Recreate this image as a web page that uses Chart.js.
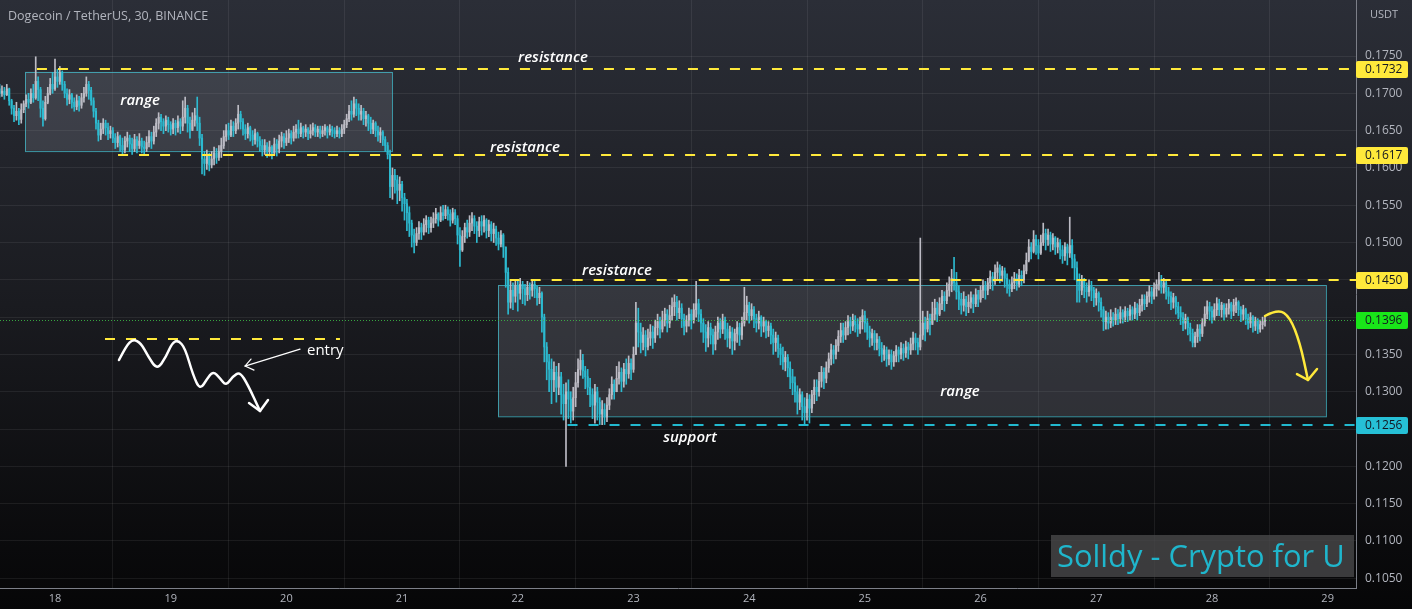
<!DOCTYPE html>
<html lang="en">
<head>
<meta charset="UTF-8" />
<title>Dogecoin / TetherUS, 30, BINANCE</title>
<script src="https://cdn.jsdelivr.net/npm/chart.js"></script>
<style>
  html, body { margin: 0; padding: 0; background: #131418; overflow: hidden; }
  #wrap { width: 1412px; height: 609px; }
</style>
</head>
<body>
<div id="wrap"><canvas id="chart" width="1412" height="609"></canvas></div>
<script>
// 30 minute candles, prices in 1/10000 USDT. first candle = Jan 17 12:30
const startDay = 17 + 12.5 / 24;
const candleStep = 1 / 48;
const firstOpen = 1706;

const closes = [
  1700,1703,1698,1706,1690,1680,1670,1676,1665,1678, 1686,1692,1688,1700,1694,1716,1705,1680,1666,1688,
  1700,1712,1706,1722,1716,1728,1712,1700,1692,1698, 1688,1682,1690,1684,1694,1700,1712,1704,1690,1676,
  1660,1644,1652,1660,1654,1646,1650,1640,1634,1642, 1630,1624,1636,1640,1632,1626,1638,1630,1636,1628,
  1626,1634,1642,1636,1648,1660,1668,1662,1656,1664, 1658,1652,1660,1654,1662,1656,1668,1680,1660,1650,
  1664,1670,1660,1640,1612,1606,1616,1604,1612,1620, 1614,1622,1630,1642,1650,1644,1656,1650,1660,1672,
  1662,1652,1646,1654,1644,1638,1646,1636,1630,1624, 1630,1622,1628,1620,1632,1626,1636,1642,1634,1640,
  1646,1640,1648,1652,1646,1654,1648,1652,1646,1650, 1654,1648,1652,1646,1650,1654,1648,1652,1650,1646,
  1650,1646,1652,1658,1666,1676,1672,1686,1680,1672, 1676,1666,1670,1660,1652,1660,1650,1644,1648,1638,
  1630,1618,1575,1590,1584,1570,1578,1560,1552,1540, 1526,1510,1500,1512,1520,1514,1524,1530,1520,1526,
  1532,1538,1530,1540,1536,1544,1538,1530,1540,1532, 1510,1490,1508,1520,1514,1526,1532,1522,1516,1528,
  1522,1530,1516,1524,1512,1518,1506,1498,1510,1494, 1460,1420,1436,1428,1442,1432,1444,1438,1430,1440,
  1436,1444,1438,1426,1432,1400,1360,1340,1330,1316, 1326,1306,1320,1296,1284,1300,1290,1274,1292,1312,
  1330,1342,1328,1320,1306,1296,1282,1300,1286,1270, 1276,1266,1282,1296,1310,1300,1318,1326,1314,1330,
  1324,1338,1330,1350,1392,1380,1366,1376,1360,1372, 1380,1372,1386,1394,1384,1396,1404,1392,1402,1414,
  1420,1406,1412,1398,1388,1396,1404,1396,1410,1418, 1404,1392,1380,1372,1386,1376,1364,1380,1392,1384,
  1396,1384,1372,1380,1368,1378,1386,1376,1392,1406, 1416,1402,1410,1398,1392,1400,1388,1394,1382,1388,
  1376,1366,1372,1358,1350,1340,1346,1332,1320,1312, 1300,1286,1296,1280,1272,1290,1278,1296,1306,1300,
  1314,1326,1318,1332,1344,1356,1350,1362,1374,1382, 1376,1386,1394,1388,1396,1390,1384,1394,1402,1392,
  1380,1372,1378,1366,1370,1358,1350,1356,1344,1350, 1340,1348,1356,1350,1358,1352,1360,1356,1364,1372,
  1366,1360,1376,1392,1384,1398,1390,1404,1412,1404, 1418,1428,1422,1436,1444,1452,1446,1434,1424,1416,
  1424,1414,1420,1426,1418,1430,1424,1436,1442,1436, 1446,1454,1448,1460,1466,1456,1462,1452,1444,1438,
  1446,1452,1444,1456,1450,1462,1476,1494,1488,1504, 1496,1486,1500,1512,1504,1510,1498,1506,1494,1500,
  1490,1482,1494,1486,1496,1478,1466,1448,1436,1448, 1440,1434,1442,1436,1426,1432,1420,1410,1394,1400,
  1392,1400,1396,1404,1398,1406,1400,1408,1402,1410, 1404,1412,1406,1416,1424,1418,1428,1434,1428,1438,
  1444,1450,1440,1446,1434,1428,1420,1426,1414,1406, 1400,1392,1398,1386,1378,1366,1374,1384,1378,1392,
  1404,1414,1408,1400,1410,1418,1410,1416,1404,1412, 1418,1408,1416,1420,1410,1404,1410,1398,1392,1400,
  1388,1396,1384,1390,1394,1396
];
const highs = [
  1712,1710,1708,1712,1707,1692,1684,1688,1680,1686, 1690,1698,1700,1706,1712,1749,1722,1708,1690,1696,
  1708,1720,1728,1746,1732,1736,1730,1716,1706,1705, 1700,1694,1698,1696,1700,1708,1722,1716,1708,1694,
  1680,1664,1660,1666,1664,1660,1656,1654,1646,1648, 1644,1640,1642,1648,1644,1640,1645,1642,1646,1640,
  1636,1642,1650,1648,1656,1666,1674,1672,1666,1670, 1668,1662,1666,1664,1670,1666,1690,1695,1684,1668,
  1674,1680,1695,1668,1645,1622,1624,1620,1622,1628, 1626,1630,1640,1650,1658,1660,1664,1662,1666,1684,
  1676,1666,1658,1660,1656,1650,1652,1648,1642,1638, 1638,1634,1636,1630,1640,1638,1644,1648,1646,1650,
  1652,1650,1656,1658,1664,1660,1656,1658,1654,1658, 1660,1658,1656,1656,1656,1658,1656,1658,1656,1654,
  1656,1654,1658,1664,1672,1684,1690,1695,1692,1686, 1684,1680,1676,1672,1668,1664,1662,1656,1654,1650,
  1642,1634,1624,1600,1598,1590,1588,1582,1566,1558, 1548,1530,1518,1520,1528,1526,1532,1536,1534,1534,
  1540,1546,1540,1548,1550,1550,1548,1544,1546,1544, 1536,1520,1516,1526,1530,1536,1540,1536,1528,1534,
  1536,1536,1532,1530,1528,1526,1522,1514,1516,1512, 1494,1466,1448,1446,1450,1448,1452,1448,1444,1448,
  1446,1450,1448,1442,1440,1434,1404,1366,1350,1344, 1340,1334,1338,1326,1310,1312,1316,1300,1306,1326,
  1344,1356,1350,1334,1330,1318,1304,1310,1306,1292, 1288,1284,1292,1304,1320,1316,1334,1340,1332,1338,
  1344,1348,1344,1360,1420,1412,1392,1386,1382,1384, 1390,1388,1396,1404,1400,1408,1412,1410,1416,1426,
  1430,1428,1422,1418,1404,1402,1412,1410,1418,1448, 1424,1410,1398,1390,1394,1392,1384,1388,1400,1398,
  1404,1400,1392,1388,1386,1384,1394,1392,1400,1440, 1428,1420,1418,1414,1404,1408,1402,1400,1396,1394,
  1392,1384,1380,1376,1364,1360,1354,1350,1340,1330, 1320,1308,1304,1300,1292,1298,1296,1302,1316,1316,
  1326,1334,1332,1340,1352,1364,1362,1370,1382,1392, 1392,1394,1402,1400,1404,1402,1398,1400,1410,1408,
  1398,1388,1384,1382,1378,1374,1366,1362,1360,1356, 1356,1354,1362,1360,1366,1364,1368,1366,1372,1380,
  1378,1372,1506,1408,1400,1408,1404,1420,1424,1420, 1426,1436,1434,1446,1454,1464,1480,1460,1442,1432,
  1434,1428,1430,1434,1430,1438,1436,1442,1450,1448, 1452,1462,1460,1470,1474,1470,1468,1466,1458,1450,
  1454,1460,1458,1464,1462,1470,1486,1504,1500,1516, 1510,1504,1510,1526,1518,1518,1514,1512,1508,1506,
  1504,1496,1500,1498,1534,1504,1484,1474,1458,1456, 1452,1446,1450,1448,1440,1438,1434,1426,1414,1408,
  1406,1410,1406,1412,1410,1414,1410,1414,1412,1416, 1414,1420,1418,1424,1430,1430,1434,1442,1440,1446,
  1450,1460,1456,1452,1448,1440,1434,1432,1428,1420, 1414,1406,1404,1400,1392,1384,1380,1390,1390,1398,
  1414,1422,1420,1414,1418,1426,1424,1420,1418,1418, 1424,1420,1424,1426,1422,1414,1416,1412,1404,1406,
  1402,1400,1398,1396,1400,1402
];
const lows = [
  1695,1696,1692,1697,1684,1672,1662,1664,1658,1660, 1674,1682,1680,1686,1688,1692,1690,1668,1656,1664,
  1686,1698,1700,1704,1708,1712,1704,1694,1684,1686, 1680,1676,1678,1676,1680,1688,1696,1692,1684,1668,
  1652,1636,1638,1646,1644,1638,1640,1634,1626,1628, 1622,1618,1620,1628,1622,1618,1622,1620,1626,1620,
  1618,1622,1628,1626,1632,1642,1652,1650,1646,1650, 1648,1644,1646,1644,1648,1646,1650,1660,1648,1640,
  1652,1656,1650,1630,1592,1590,1598,1596,1600,1604, 1606,1610,1614,1626,1636,1638,1642,1642,1646,1652,
  1652,1644,1638,1640,1636,1630,1632,1628,1622,1616, 1618,1614,1616,1612,1618,1616,1620,1628,1626,1630,
  1634,1632,1636,1640,1640,1642,1640,1642,1638,1640, 1644,1642,1642,1640,1642,1644,1640,1644,1642,1640,
  1642,1640,1642,1646,1654,1662,1664,1668,1670,1664, 1664,1658,1656,1650,1646,1646,1642,1636,1634,1630,
  1622,1612,1560,1558,1566,1552,1556,1542,1530,1516, 1508,1494,1486,1496,1504,1504,1510,1514,1512,1514,
  1520,1526,1522,1528,1530,1532,1530,1522,1526,1524, 1498,1468,1488,1500,1506,1508,1516,1512,1500,1508,
  1510,1514,1506,1508,1502,1500,1496,1490,1494,1480, 1440,1404,1412,1410,1420,1408,1424,1418,1416,1422,
  1424,1428,1426,1416,1418,1380,1340,1316,1300,1284, 1300,1286,1296,1270,1262,1200,1264,1258,1262,1280,
  1306,1322,1318,1304,1296,1280,1264,1258,1262,1256, 1256,1256,1260,1276,1290,1290,1300,1310,1300,1306,
  1310,1318,1316,1326,1350,1360,1352,1356,1348,1356, 1362,1358,1366,1376,1372,1380,1388,1380,1386,1396,
  1402,1396,1398,1386,1376,1380,1388,1384,1392,1400, 1394,1380,1366,1354,1360,1364,1350,1356,1370,1372,
  1378,1370,1360,1358,1350,1356,1366,1362,1370,1388, 1396,1392,1396,1386,1380,1384,1374,1380,1372,1374,
  1364,1350,1354,1346,1336,1330,1328,1320,1304,1296, 1286,1270,1276,1262,1256,1262,1258,1272,1284,1288,
  1294,1306,1304,1312,1326,1336,1338,1344,1354,1366, 1366,1370,1376,1378,1382,1380,1374,1378,1384,1380,
  1370,1360,1362,1356,1356,1348,1340,1342,1334,1336, 1330,1334,1340,1340,1344,1342,1346,1344,1350,1356,
  1356,1350,1356,1370,1368,1380,1376,1392,1396,1394, 1402,1410,1408,1418,1428,1434,1436,1424,1410,1404,
  1408,1402,1406,1412,1406,1414,1414,1420,1426,1424, 1430,1438,1436,1444,1450,1446,1448,1440,1432,1428,
  1434,1438,1436,1440,1442,1446,1458,1474,1478,1486, 1484,1478,1484,1496,1490,1496,1488,1490,1484,1486,
  1478,1472,1476,1470,1480,1466,1450,1420,1420,1430, 1426,1420,1428,1422,1414,1416,1408,1400,1382,1384,
  1384,1386,1388,1390,1390,1392,1392,1394,1394,1396, 1396,1398,1396,1402,1408,1410,1414,1420,1418,1424,
  1428,1436,1432,1432,1424,1418,1410,1412,1404,1398, 1390,1382,1384,1376,1368,1360,1360,1366,1368,1374,
  1388,1398,1396,1392,1396,1402,1402,1400,1396,1400, 1404,1398,1402,1406,1402,1394,1396,1390,1384,1386,
  1380,1382,1378,1380,1384,1388
];

const dayTicks = [18, 19, 20, 21, 22, 23, 24, 25, 26, 27, 28, 29];
const priceTicks = [0.1050, 0.1100, 0.1150, 0.1200, 0.1250, 0.1300, 0.1350, 0.1400,
                    0.1450, 0.1500, 0.1550, 0.1600, 0.1650, 0.1700, 0.1750];
const dayMin = 17.5246, dayMax = 29.245;
const priceMin = 0.10369, priceMax = 0.18251;

// drawn levels
const resistancePrices = [0.1732, 0.1617, 0.1450];
const resistanceStarts = [17.844, 18.545, 21.93];
const supportPrice = 0.1256, supportStart = 22.43;
const lastPrice = 0.1396;
const entryPrice = 0.1371, entryFrom = 18.432, entryTo = 20.463;

// range boxes [dayFrom, dayTo, priceTop, priceBottom]
const rangeBoxes = [
  [17.741, 20.913, 0.1729, 0.1623],
  [21.829, 28.985, 0.1443, 0.1267]
];

const noteTexts  = ['resistance', 'resistance', 'resistance', 'support', 'range', 'range'];
const noteDays   = [22.304, 22.062, 22.857, 23.488, 18.735, 25.822];
const notePrices = [0.17473, 0.16267, 0.14618, 0.12379, 0.16897, 0.13000];

// hand drawn sketch paths [day, price]
const wavePath = [
  [18.553, 0.13425], [18.614, 0.13613], [18.674, 0.13706], [18.743, 0.13653], [18.804, 0.13478],
  [18.882, 0.13291], [18.959, 0.13465], [19.011, 0.13653], [19.063, 0.13693], [19.124, 0.13586],
  [19.193, 0.13224], [19.253, 0.13023], [19.314, 0.13170], [19.366, 0.13277], [19.426, 0.13184],
  [19.478, 0.13076], [19.538, 0.13210], [19.599, 0.13264], [19.668, 0.13090], [19.772, 0.12741]
];
const waveHead = [[19.677, 0.12848], [19.772, 0.12741], [19.841, 0.12889]];
const entryArrow = [[20.118, 0.13572], [19.642, 0.13344]];
const entryHead = [[19.694, 0.13438], [19.642, 0.13344], [19.720, 0.13290]];
const entryLabel = ['entry', 20.178, 0.13546];
const forecastPath = [[28.458, 0.14015], [28.571, 0.14109], [28.674, 0.14001], [28.761, 0.13653], [28.830, 0.13157]];
const forecastHead = [[28.735, 0.13237], [28.830, 0.13157], [28.908, 0.13304]];

const upColor = '#bdbcc5';
const downColor = '#2cbad0';
const yellow = '#ffe93b';
const axisFont = '"Open Sans", sans-serif';

const times = closes.map((_, i) => startDay + i * candleStep);
const opens = closes.map((c, i) => i === 0 ? firstOpen : closes[i - 1]);
const toPrice = v => v / 10000;
const candleColors = closes.map((c, i) => c >= opens[i] ? upColor : downColor);

function smoothPath(ctx, pts) {
  ctx.beginPath();
  ctx.moveTo(pts[0][0], pts[0][1]);
  for (let i = 1; i < pts.length - 1; i++) {
    const mx = (pts[i][0] + pts[i + 1][0]) / 2;
    const my = (pts[i][1] + pts[i + 1][1]) / 2;
    ctx.quadraticCurveTo(pts[i][0], pts[i][1], mx, my);
  }
  const last = pts[pts.length - 1];
  ctx.lineTo(last[0], last[1]);
  ctx.stroke();
}

function polyline(ctx, pts) {
  ctx.beginPath();
  pts.forEach((p, i) => i ? ctx.lineTo(p[0], p[1]) : ctx.moveTo(p[0], p[1]));
  ctx.stroke();
}

function axisTag(ctx, y, text, bg, fg, left) {
  ctx.fillStyle = bg;
  ctx.beginPath();
  ctx.roundRect(left, y - 8, 52, 17, 2);
  ctx.fill();
  ctx.fillStyle = fg;
  ctx.font = '12px ' + axisFont;
  ctx.textAlign = 'left';
  ctx.textBaseline = 'middle';
  ctx.fillText(text, left + 9, y + 1);
}

const drawings = {
  id: 'drawings',
  beforeDraw(chart) {
    const { ctx, width, height } = chart;
    const g = ctx.createLinearGradient(0, 0, 0, height);
    g.addColorStop(0, '#2b2e37');
    g.addColorStop(0.5, '#1a1b20');
    g.addColorStop(1, '#060607');
    ctx.save();
    ctx.fillStyle = g;
    ctx.fillRect(0, 0, width, height);
    ctx.restore();
  },
  beforeDatasetsDraw(chart) {
    const { ctx, chartArea: a, scales: { x, y } } = chart;
    ctx.save();
    ctx.beginPath();
    ctx.rect(a.left, a.top, a.width, a.height);
    ctx.clip();
    rangeBoxes.forEach(b => {
      const x0 = x.getPixelForValue(b[0]), x1 = x.getPixelForValue(b[1]);
      const y0 = y.getPixelForValue(b[2]), y1 = y.getPixelForValue(b[3]);
      ctx.fillStyle = 'rgba(140,143,155,0.24)';
      ctx.fillRect(x0, y0, x1 - x0, y1 - y0);
      ctx.strokeStyle = 'rgba(70,190,205,0.75)';
      ctx.lineWidth = 1;
      ctx.strokeRect(Math.round(x0) + 0.5, Math.round(y0) + 0.5, x1 - x0, y1 - y0);
    });
    ctx.restore();
  },
  afterDatasetsDraw(chart) {
    const { ctx, chartArea: a, scales: { x, y } } = chart;
    const px = p => [x.getPixelForValue(p[0]), y.getPixelForValue(p[1])];
    ctx.save();
    ctx.beginPath();
    ctx.rect(a.left, a.top, a.width, a.height);
    ctx.clip();

    // last price dotted line
    ctx.strokeStyle = 'rgba(60,190,70,0.85)';
    ctx.lineWidth = 1;
    ctx.setLineDash([1, 2]);
    let yy = Math.round(y.getPixelForValue(lastPrice)) + 0.5;
    polyline(ctx, [[a.left, yy], [a.right, yy]]);

    // resistance / support / entry dashed lines
    ctx.lineWidth = 2;
    ctx.setLineDash([10, 11]);
    ctx.strokeStyle = yellow;
    resistancePrices.forEach((p, i) => {
      const ly = Math.round(y.getPixelForValue(p));
      polyline(ctx, [[x.getPixelForValue(resistanceStarts[i]), ly], [a.right, ly]]);
    });
    yy = Math.round(y.getPixelForValue(entryPrice));
    polyline(ctx, [[x.getPixelForValue(entryFrom), yy], [x.getPixelForValue(entryTo), yy]]);
    ctx.strokeStyle = '#22b9cf';
    yy = Math.round(y.getPixelForValue(supportPrice));
    polyline(ctx, [[x.getPixelForValue(supportStart), yy], [a.right, yy]]);
    ctx.setLineDash([]);

    // notes
    ctx.fillStyle = '#ffffff';
    ctx.font = 'italic 600 15px "Open Sans", sans-serif';
    ctx.textAlign = 'center';
    ctx.textBaseline = 'middle';
    noteTexts.forEach((t, i) => {
      ctx.fillText(t, x.getPixelForValue(noteDays[i]), y.getPixelForValue(notePrices[i]));
    });
    ctx.font = '15px "Open Sans", sans-serif';
    ctx.textAlign = 'left';
    ctx.fillText(entryLabel[0], x.getPixelForValue(entryLabel[1]), y.getPixelForValue(entryLabel[2]));

    // hand sketch
    ctx.lineCap = 'round';
    ctx.lineJoin = 'round';
    ctx.strokeStyle = '#ffffff';
    ctx.lineWidth = 2.5;
    smoothPath(ctx, wavePath.map(px));
    polyline(ctx, waveHead.map(px));
    ctx.lineWidth = 1.2;
    polyline(ctx, entryArrow.map(px));
    polyline(ctx, entryHead.map(px));
    ctx.strokeStyle = yellow;
    ctx.lineWidth = 2.5;
    smoothPath(ctx, forecastPath.map(px));
    polyline(ctx, forecastHead.map(px));
    ctx.restore();
  },
  afterDraw(chart) {
    const { ctx, chartArea: a, scales: { y } } = chart;
    ctx.save();
    const left = a.right;
    resistancePrices.forEach(p => {
      axisTag(ctx, Math.round(y.getPixelForValue(p)), p.toFixed(4), yellow, '#131722', left);
    });
    axisTag(ctx, Math.round(y.getPixelForValue(lastPrice)), lastPrice.toFixed(4), '#19e619', '#131722', left);
    axisTag(ctx, Math.round(y.getPixelForValue(supportPrice)), supportPrice.toFixed(4), '#26c0d6', '#131722', left);

    // header
    ctx.fillStyle = '#b2b5be';
    ctx.font = '12.5px "Open Sans", sans-serif';
    ctx.textAlign = 'left';
    ctx.textBaseline = 'middle';
    ctx.fillText('Dogecoin / TetherUS, 30, BINANCE', 8, 16);
    ctx.font = '11px "Open Sans", sans-serif';
    ctx.fillText('USDT', a.right + 14, 15);

    // watermark
    const text = 'Solldy - Crypto for U';
    ctx.font = '32px "Open Sans", sans-serif';
    const w = ctx.measureText(text).width;
    const size = 32 * 288 / w;
    ctx.font = size.toFixed(1) + 'px "Open Sans", sans-serif';
    ctx.fillStyle = 'rgba(72,72,74,0.8)';
    ctx.fillRect(a.right - 305, a.bottom - 53, 303, 42);
    ctx.fillStyle = '#1fb6cc';
    ctx.textBaseline = 'alphabetic';
    ctx.fillText(text, a.right - 299, a.bottom - 21);
    ctx.restore();
  }
};

new Chart(document.getElementById('chart'), {
  type: 'bar',
  data: {
    datasets: [
      {
        label: 'wick',
        data: times.map((t, i) => ({ x: t, y: [toPrice(lows[i]), toPrice(highs[i])] })),
        backgroundColor: candleColors,
        barThickness: 1,
        grouped: false,
        order: 2
      },
      {
        label: 'body',
        data: times.map((t, i) => ({ x: t, y: [toPrice(opens[i]), toPrice(closes[i])] })),
        backgroundColor: candleColors,
        barThickness: 1.4,
        minBarLength: 1,
        grouped: false,
        order: 1
      }
    ]
  },
  options: {
    responsive: false,
    animation: false,
    devicePixelRatio: 1,
    layout: { padding: 0, autoPadding: false },
    plugins: { legend: { display: false }, tooltip: { enabled: false } },
    scales: {
      x: {
        type: 'linear',
        min: dayMin,
        max: dayMax,
        offset: false,
        afterBuildTicks: s => { s.ticks = dayTicks.map(v => ({ value: v })); },
        afterFit: s => { s.height = 21; s.paddingLeft = 0; s.paddingRight = 0; },
        ticks: {
          color: '#b2b5be',
          font: { size: 11, family: axisFont },
          padding: 4,
          maxRotation: 0,
          autoSkip: false,
          callback: v => String(v)
        },
        grid: { color: 'rgba(255,255,255,0.07)', drawTicks: false },
        border: { color: '#7c7f88' }
      },
      y: {
        position: 'right',
        min: priceMin,
        max: priceMax,
        afterBuildTicks: s => { s.ticks = priceTicks.map(v => ({ value: v })); },
        afterFit: s => { s.width = 56; s.paddingTop = 0; s.paddingBottom = 0; },
        ticks: {
          color: '#b2b5be',
          font: { size: 12, family: axisFont },
          padding: 9,
          callback: v => Number(v).toFixed(4)
        },
        grid: { color: 'rgba(255,255,255,0.07)', drawTicks: false },
        border: { color: '#7c7f88' }
      }
    }
  },
  plugins: [drawings]
});
</script>
</body>
</html>
